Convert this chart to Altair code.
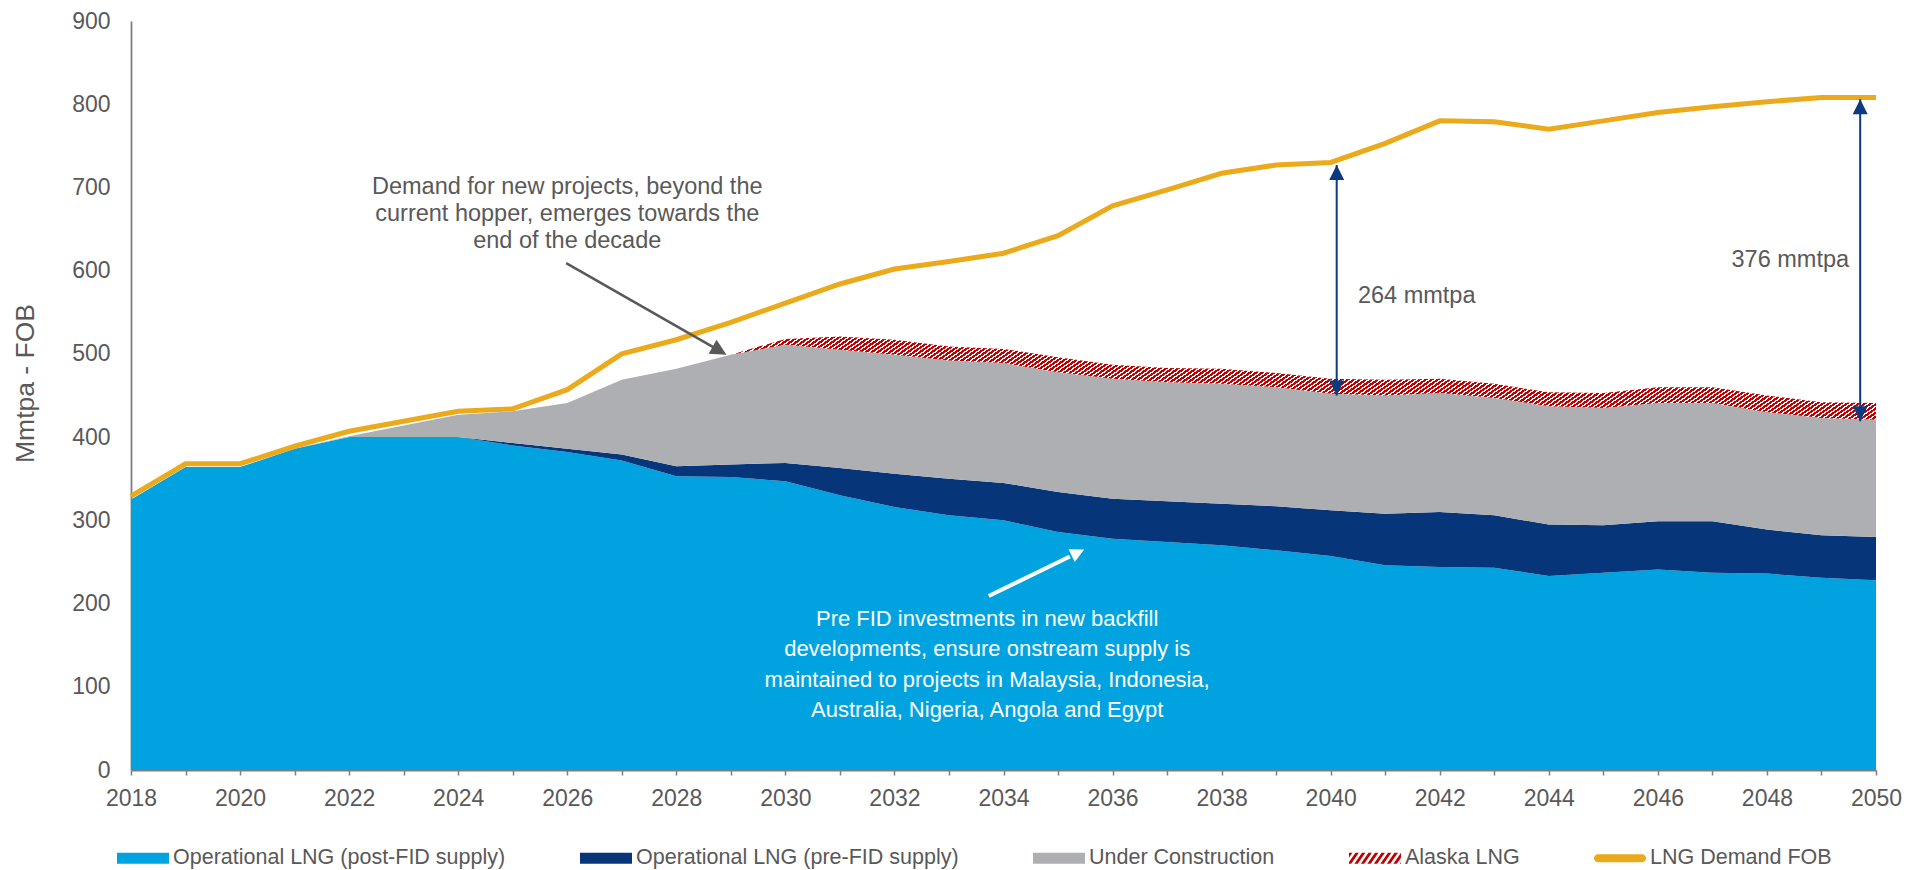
import math
import altair as alt
import pandas as pd

# ---------------- data ----------------
years = list(range(2018, 2051))
post_fid = [325, 364, 364, 386, 400, 400, 400, 390, 382, 372, 353, 352, 347, 330, 316, 306, 300,
            286, 278, 274, 270, 264, 257, 246, 244, 243, 233, 237, 241, 237, 236, 231, 228]
pre_fid = [0, 0, 0, 0, 0, 0, 0, 3, 4, 7, 12, 15, 22, 33, 40, 44, 45,
           48, 48, 49, 50, 53, 55, 62, 66, 63, 62, 57, 58, 62, 53, 51, 52]
under_construction = [0, 0, 0, 0, 1, 14, 27, 38, 55, 90, 117, 132, 142, 142, 143, 142, 144,
                      144, 144, 143, 144, 143, 140, 142, 143, 141, 142, 141, 142, 142, 141, 141, 141]
alaska_lng = [0] * 11 + [0, 7, 16, 18, 17, 17, 18, 17, 17, 18, 17, 18, 19, 17, 17, 17, 18, 19, 19, 20, 19, 20]
demand_fob = [329, 368, 368, 389, 407, 419, 431, 434, 457, 500, 517, 538, 561, 584, 602, 611, 621,
              642, 678, 697, 717, 727, 730, 753, 780, 779, 770, 780, 790, 797, 803, 808, 808]

series_names = ["Operational LNG (post-FID supply)", "Operational LNG (pre-FID supply)",
                "Under Construction", "Alaska LNG", "LNG Demand FOB"]
series_colors = ["#00A3E0", "#06357A", "#ADAFB2", "#C00000", "#EAAA1B"]

x_ticks = years
y_ticks = list(range(0, 901, 100))

# annotations
gap_years = [2040.11, 2049.71]
gap_low = [450, 419]
gap_high = [727, 806]
gap_labels = ["264 mmtpa", "376 mmtpa"]
gap_label_year = [2040.5, 2047.35]
gap_label_value = [569, 613]

note_text = "Demand for new projects, beyond the\ncurrent hopper, emerges towards the\nend of the decade"
note_pos = (2026.0, 700.5)
note_arrow_from = (2025.98, 609)
note_arrow_to = (2028.92, 499)

fid_text = ("Pre FID investments in new backfill\ndevelopments, ensure onstream supply is\n"
            "maintained to projects in Malaysia, Indonesia,\nAustralia, Nigeria, Angola and Egypt")
fid_pos = (2033.7, 181.4)
fid_arrow_from = (2033.73, 209)
fid_arrow_to = (2035.48, 265)

# ---------------- style / layout ----------------
FONT = "Liberation Sans"
TEXT_GRAY = "#595959"
AXIS_GRAY = "#7F7F7F"
NAVY = "#0B3A7E"
W, H = 1745, 749
X_MIN, X_MAX, Y_MAX = 2018, 2050, 900
px_year = W / (X_MAX - X_MIN)
px_val = H / Y_MAX

RECT_PATH = "M-1,-0.21L1,-0.21L1,0.21L-1,0.21Z"
LINE_PATH = "M-0.85,-0.15L0.85,-0.15A0.15,0.15,0,0,1,0.85,0.15L-0.85,0.15A0.15,0.15,0,0,1,-0.85,-0.15Z"
HEAD_PATH = "M0,0L1,2L-1,2Z"


def stripe_gradient(w, h, period, slope, c1, c2, frac=0.5):
    g = slope * h / w
    s = (1 + g) / (1 + g * g)
    n = max(1, int(round(w * (1 + g) / period)))
    stops = []
    for i in range(n):
        a, b, c = i / n, (i + frac) / n, (i + 1) / n
        stops += [{"offset": round(a, 6), "color": c1}, {"offset": round(b, 6), "color": c1},
                  {"offset": round(b, 6), "color": c2}, {"offset": round(c, 6), "color": c2}]
    return {"gradient": "linear", "stops": stops, "x1": 0, "y1": 0, "x2": s, "y2": s * g}


def clip_x(poly, xmin, xmax):
    def clip(pts, inside, cut):
        out = []
        for i in range(len(pts)):
            cur, prev = pts[i], pts[i - 1]
            if inside(cur):
                if not inside(prev):
                    out.append(cut(prev, cur))
                out.append(cur)
            elif inside(prev):
                out.append(cut(prev, cur))
        return out

    def at(p, q, xv):
        t = (xv - p[0]) / (q[0] - p[0])
        return (xv, p[1] + t * (q[1] - p[1]))

    poly = clip(poly, lambda p: p[0] >= xmin, lambda p, q: at(p, q, xmin))
    if not poly:
        return poly
    return clip(poly, lambda p: p[0] <= xmax, lambda p, q: at(p, q, xmax))


def stripes_path(h=0.21, slope=1.43, period=0.25, width=0.13):
    dx = 2 * h / slope
    parts = []
    a = -1 - dx
    while a < 1:
        poly = clip_x([(a, h), (a + width, h), (a + width + dx, -h), (a + dx, -h)], -1, 1)
        if len(poly) >= 3:
            parts.append("M" + "L".join(f"{x:.3f},{y:.3f}" for x, y in poly) + "Z")
        a += period
    return "".join(parts)


def screen_angle(frm, to):
    dx = (to[0] - frm[0]) * px_year
    dy = -(to[1] - frm[1]) * px_val
    return math.degrees(math.atan2(dx, -dy)) % 360


# ---------------- frames ----------------
stack_rows = []
gray_top = []
for i, yr in enumerate(years):
    t0 = post_fid[i]
    t1 = t0 + pre_fid[i]
    t2 = t1 + under_construction[i]
    gray_top.append(t2)
    stack_rows += [dict(year=yr, series=series_names[0], lo=0, hi=t0),
                   dict(year=yr, series=series_names[1], lo=t0, hi=t1),
                   dict(year=yr, series=series_names[2], lo=t1, hi=t2)]
stack_df = pd.DataFrame(stack_rows)

first = next(i for i, v in enumerate(alaska_lng) if v > 0) - 1
alaska_df = pd.DataFrame({
    "year": years[first:],
    "lo": gray_top[first:],
    "hi": [g + a for g, a in zip(gray_top[first:], alaska_lng[first:])],
})
demand_df = pd.DataFrame({"year": years, "value": demand_fob})

bw = (alaska_df["year"].max() - alaska_df["year"].min()) * px_year
bh = (alaska_df["hi"].max() - alaska_df["lo"].min()) * px_val
area_stripes = stripe_gradient(bw, bh, 6.0, 1.43, "#C00000", "#FFFFFF", 0.6)

gap_df = pd.DataFrame({"year": gap_years, "low": gap_low, "high": gap_high})
gap_text_df = pd.DataFrame({"year": gap_label_year, "value": gap_label_value, "text": gap_labels})


def shorten(frm, to, f):
    return (frm[0] + (to[0] - frm[0]) * f, frm[1] + (to[1] - frm[1]) * f)


note_end = shorten(note_arrow_from, note_arrow_to, 0.92)
fid_end = shorten(fid_arrow_from, fid_arrow_to, 0.85)
note_line_df = pd.DataFrame({"x0": [note_arrow_from[0]], "y0": [note_arrow_from[1]],
                             "x1": [note_end[0]], "y1": [note_end[1]]})
fid_line_df = pd.DataFrame({"x0": [fid_arrow_from[0]], "y0": [fid_arrow_from[1]],
                            "x1": [fid_end[0]], "y1": [fid_end[1]]})
note_tip_df = pd.DataFrame({"x": [note_arrow_to[0]], "y": [note_arrow_to[1]]})
fid_tip_df = pd.DataFrame({"x": [fid_arrow_to[0]], "y": [fid_arrow_to[1]]})
note_df = pd.DataFrame({"x": [note_pos[0]], "y": [note_pos[1]], "text": [note_text]})
fid_df = pd.DataFrame({"x": [fid_pos[0]], "y": [fid_pos[1]], "text": [fid_text]})

# ---------------- scales / axes ----------------
x_scale = alt.Scale(domain=[X_MIN, X_MAX], nice=False, zero=False)
y_scale = alt.Scale(domain=[0, Y_MAX], nice=False)

x_axis = alt.Axis(values=x_ticks, format="d", labelExpr="datum.value % 2 === 0 ? datum.label : ''",
                  title=None, grid=False, tickSize=5, tickColor=AXIS_GRAY, tickWidth=1.5,
                  domainColor=AXIS_GRAY, domainWidth=1.8, labelFontSize=23, labelColor=TEXT_GRAY,
                  labelFont=FONT, labelPadding=12, labelFlush=False, labelOverlap=False)
y_axis = alt.Axis(values=y_ticks, title="Mmtpa - FOB", grid=False, ticks=False,
                  domainColor=AXIS_GRAY, domainWidth=1.8, labelFontSize=23, labelColor=TEXT_GRAY,
                  labelFont=FONT, labelPadding=21, labelFlush=False, labelOverlap=False,
                  titleFontSize=26.5, titleColor=TEXT_GRAY, titleFont=FONT, titleFontWeight="normal",
                  titleAngle=270, titleAlign="center", titleBaseline="middle",
                  titleX=-106, titleY=362)


def X(field):
    return alt.X(field, scale=x_scale, axis=x_axis)


def Y(field):
    return alt.Y(field, scale=y_scale, axis=y_axis)


STRIPES = stripes_path()
symbol_expr = (f"datum.value === '{series_names[3]}' ? '{STRIPES}' : "
               f"(datum.value === '{series_names[4]}' ? '{LINE_PATH}' : '{RECT_PATH}')")
legend = alt.Legend(
    title=None, orient="none", legendX=-14, legendY=811, direction="horizontal", columns=5,
    columnPadding=74, padding=0, symbolSize=2704, symbolType=alt.ExprRef(expr=symbol_expr),
    symbolStrokeWidth=0, symbolOpacity=1, labelFont=FONT, labelFontSize=21.5, labelColor=TEXT_GRAY,
    labelOffset=4, labelLimit=0,
)

# ---------------- layers ----------------
areas = alt.Chart(stack_df).mark_area(interpolate="linear", opacity=1).encode(
    x=X("year:Q"), y=Y("hi:Q"), y2="lo:Q",
    color=alt.Color("series:N", scale=alt.Scale(domain=series_names, range=series_colors), legend=legend),
)

alaska_layer = alt.Chart(alaska_df).mark_area(interpolate="linear", color=area_stripes, opacity=1).encode(
    x=X("year:Q"), y=Y("hi:Q"), y2="lo:Q",
)

demand_layer = alt.Chart(demand_df).mark_line(color=series_colors[4], strokeWidth=5).encode(
    x=X("year:Q"), y=Y("value:Q"),
)

gap_rule = alt.Chart(gap_df).mark_rule(color=NAVY, strokeWidth=2).encode(
    x=X("year:Q"), y=Y("low:Q"), y2="high:Q",
)
gap_head_top = alt.Chart(gap_df).mark_point(shape=HEAD_PATH, filled=True, opacity=1, size=225,
                                            color=NAVY, strokeWidth=0, angle=0).encode(
    x=X("year:Q"), y=Y("high:Q"),
)
gap_head_bottom = alt.Chart(gap_df).mark_point(shape=HEAD_PATH, filled=True, opacity=1, size=225,
                                               color=NAVY, strokeWidth=0, angle=180).encode(
    x=X("year:Q"), y=Y("low:Q"),
)


def arrow_line(df, color, width):
    return alt.Chart(df).mark_rule(color=color, strokeWidth=width).encode(
        x=X("x0:Q"), x2="x1:Q", y=Y("y0:Q"), y2="y1:Q",
    )


def arrow_head(df, color, size, angle):
    return alt.Chart(df).mark_point(shape=HEAD_PATH, filled=True, opacity=1, size=size,
                                    color=color, strokeWidth=0, angle=angle).encode(
        x=X("x:Q"), y=Y("y:Q"),
    )


note_line = arrow_line(note_line_df, "#595959", 2.5)
note_head = arrow_head(note_tip_df, "#595959", 256, screen_angle(note_arrow_from, note_arrow_to))
fid_line = arrow_line(fid_line_df, "#FFFFFF", 4)
fid_head = arrow_head(fid_tip_df, "#FFFFFF", 196, screen_angle(fid_arrow_from, fid_arrow_to))

gap_text = alt.Chart(gap_text_df).mark_text(align="left", baseline="middle", fontSize=23.5,
                                            font=FONT, color=TEXT_GRAY).encode(
    x=X("year:Q"), y=Y("value:Q"), text="text:N",
)
note_layer = alt.Chart(note_df).mark_text(align="center", baseline="middle", fontSize=23.5, lineHeight=27,
                                          lineBreak="\n", font=FONT, color=TEXT_GRAY).encode(
    x=X("x:Q"), y=Y("y:Q"), text="text:N",
)
fid_layer = alt.Chart(fid_df).mark_text(align="center", baseline="middle", fontSize=22, lineHeight=30.3,
                                        lineBreak="\n", font=FONT, color="#FFFFFF").encode(
    x=X("x:Q"), y=Y("y:Q"), text="text:N",
)

chart = alt.layer(
    areas, alaska_layer, demand_layer,
    gap_rule, gap_head_top, gap_head_bottom,
    note_line, note_head, fid_line, fid_head,
    gap_text, note_layer, fid_layer,
).properties(
    width=W, height=H,
    autosize=alt.AutoSizeParams(type="none"),
    padding={"left": 123, "top": 13, "right": 35, "bottom": 100},
    background="white",
).configure_view(stroke=None)

chart.save("out.html", embed_options={"renderer": "svg", "actions": False})
